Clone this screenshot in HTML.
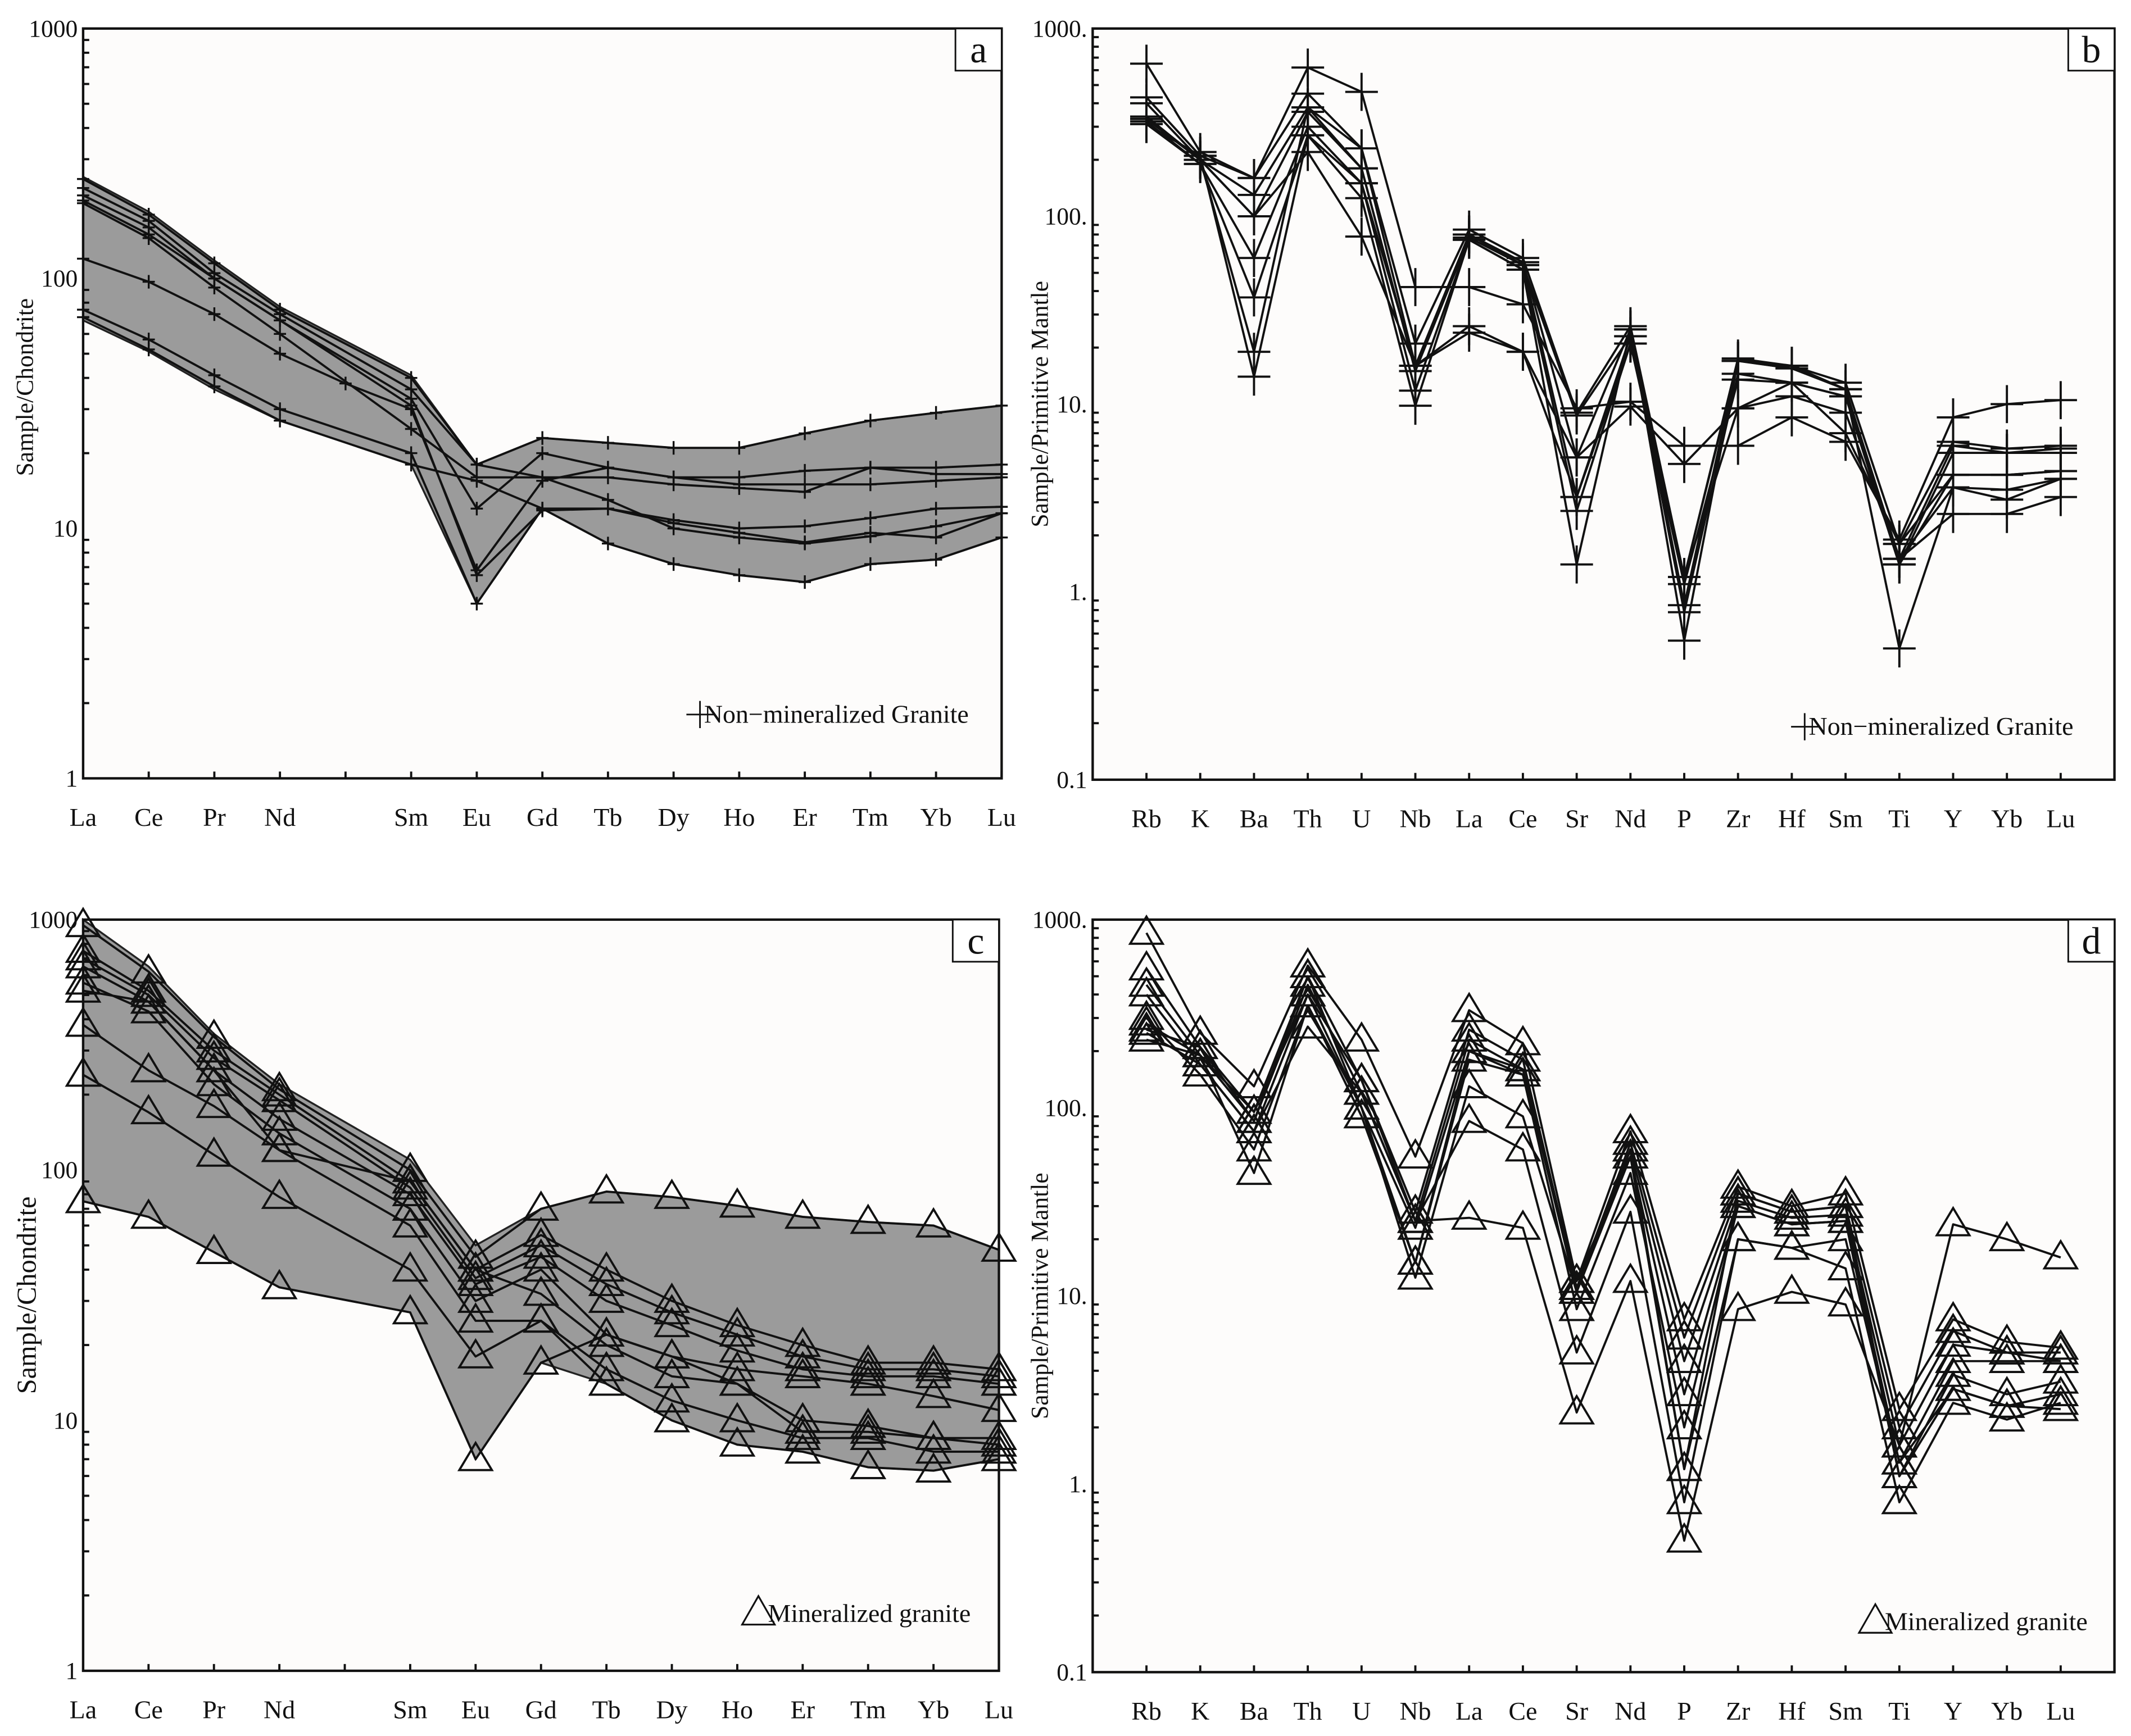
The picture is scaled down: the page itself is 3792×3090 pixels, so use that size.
<!DOCTYPE html>
<html><head><meta charset="utf-8"><style>
html,body{margin:0;padding:0;background:#fff;}
svg{display:block;}
svg text{font-family:"Liberation Serif","DejaVu Serif",serif !important;fill:#111;}
</style></head><body>
<svg id="fig" xmlns="http://www.w3.org/2000/svg" width="3792" height="3090" viewBox="0 0 1568 1278" font-family="Liberation Serif, DejaVu Serif, serif">
<rect x="0" y="0" width="1568" height="1278" fill="#ffffff"/>
</svg>
<script>
// ---------- data ----------
const reeCats = ['La','Ce','Pr','Nd','','Sm','Eu','Gd','Tb','Dy','Ho','Er','Tm','Yb','Lu'];
const pmCats = ['Rb','K','Ba','Th','U','Nb','La','Ce','Sr','Nd','P','Zr','Hf','Sm','Ti','Y','Yb','Lu'];
const yTicksA = [1000,100,10,1];
const yTickLabelsA = ['1000','100','10','1'];
const yTicksB = [1000,100,10,1,0.1];
const yTickLabelsB = ['1000.','100.','10.','1.','0.1'];

const aS1 = [250,180,115,75,null,40,18,16,16,15,14.5,14,17.5,16.5,16.5];
const aS2 = [230,170,105,72,null,36,18,23,22,21,21,24,27,29,31];
const aS3 = [215,160,100,68,null,33,12,20,17.5,16,16,17,17.5,17.5,18];
const aS4 = [205,150,100,68,null,31,6.5,11.8,12,10.8,10,10.2,11,12,12.2];
const aS5 = [200,145,92,60,null,25,16,16,13,10,9.2,8.7,9.3,10.2,11.5];
const aS6 = [120,97,72,50,38,30,6.8,15.5,17.5,16,15,15,15,15.5,16];
const aS7 = [75,57,41,30,null,20,5,12,8.7,7.2,6.5,6.1,7.2,7.5,9.2];
const aS8 = [70,52,37,27,null,18,15.5,12,12,10.5,9.6,8.8,9.6,9.2,11.5];
const aEnvUpper = [255,185,118,77,null,41,18,23,22,21,21,24,27,29,31];
const aEnvLower = [68,51,36,27,null,18,5,12,8.7,7.2,6.5,6.1,7.2,7.5,9.2];

const bS1 = [650,220,160,620,460,42,42,34,9.5,10.3,6,6,8.5,6.3,1.9,8.5,10,10.5];
const bS2 = [430,210,160,450,230,21,85,60,9,26,1.2,17.5,16,13,1.8,6.3,5.8,6];
const bS3 = [400,200,130,380,230,16,80,57,5.2,25,0.85,17,15.5,12,1.5,6,5.5,5.8];
const bS4 = [340,200,100,360,180,15,77,55,3.2,23,0.78,14.5,13,11,1.4,5.5,5.5,5.5];
const bS5 = [320,190,60,300,150,11.8,75,52,2.7,21,1.1,13.5,13,11,1.4,4.2,4.2,4.4];
const bS6 = [310,190,37,270,125,9.8,75,52,1.4,25,0.55,17,15.5,12,0.5,3.6,3.1,4];
const bS7 = [330,200,19,380,180,15,80,55,8.7,23,1.2,9.5,11,9,1.5,2.6,2.6,3.2];
const bS8 = [310,210,14,270,150,16,26,19,5.2,9.7,4.8,9.5,13,7,1.8,4.2,4.2,4.4];
const bS9 = [330,200,100,220,78,16,24,19,3.2,21,1.2,17,16,12,1.5,3.6,3.5,4];

const cS1 = [950,620,340,210,null,100,45,70,82,78,72,65,62,60,48];
const cS2 = [750,520,300,200,null,90,40,55,40,30,24,20,17,17,16];
const cS3 = [700,500,280,190,null,85,37,50,35,27,22,18,16,16,15];
const cS4 = [650,470,250,160,null,80,35,45,30,24,19,16,15,15,14];
const cS5 = [560,430,220,140,null,70,30,40,22,18,16,15,14,12.5,11];
const cS6 = [520,470,250,120,null,90,40,32,20,15,14,10,9.5,8.5,8.5];
const cS7 = [380,250,180,120,null,60,25,25,16,12,10,8.5,8.5,7.5,7.5];
const cS8 = [240,170,115,78,null,40,18,25,14,10,8,7.5,6.5,6.3,7];
const cS9 = [75,65,47,34,null,27,7,17,22,18,14,9,9,8.5,8];
const cEnvUpper = [1000,650,350,220,null,110,50,70,82,78,72,65,62,60,48];
const cEnvLower = [75,65,47,34,null,27,7,17,14,10,8,7.5,6.5,6.3,7];

const dS1 = [850,250,130,570,230,55,330,220,12,75,7.5,38,30,35,2.5,7.5,5.7,5.3];
const dS2 = [550,210,95,500,140,28,260,180,11,65,6,35,28,30,2,6.5,5,5];
const dS3 = [450,190,85,450,120,25,230,160,10.5,60,4.5,32,26,27,1.6,5.5,5,4.5];
const dS4 = [400,170,75,400,100,23,200,150,12,55,3,30,24,25,1.3,4.5,4.5,4.5];
const dS5 = [300,150,60,350,90,15,180,150,8.5,45,2,30,24,25,1.1,3.8,3,3.5];
const dS6 = [280,190,45,350,100,12.5,130,90,10.5,55,1.2,20,18,20,1.3,3.2,2.6,3];
const dS7 = [250,170,75,270,120,25,85,60,5,28,0.8,20,18,14,0.8,2.7,2.2,2.7];
const dS8 = [230,190,95,400,140,25,26,23,2.4,12,0.5,8.5,10.5,9,1.6,24,20,16];
const dS9 = [260,210,85,500,100,15,200,160,11,60,1.2,35,28,30,1.1,3.2,2.6,2.5];

// ---------- drawing ----------
const NS = 'http://www.w3.org/2000/svg';
const svg = document.getElementById('fig');
const FF = '"Liberation Serif", "DejaVu Serif", serif';
function mk(tag, attrs, parent){
  const e = document.createElementNS(NS, tag);
  for (const k in attrs) e.setAttribute(k, attrs[k]);
  if (tag==='text') e.style.fontFamily = FF;
  (parent||svg).appendChild(e);
  return e;
}

function panel(cfg){
  const g = mk('g', {});
  
  
  const {x0,x1,y0,y1,dMax,dMin,nSlots,offset} = cfg;
  const xs = i => x0 + (i+offset)*(x1-x0)/(nSlots-1);
  const ys = v => y0 + (dMax - Math.log10(v))/(dMax-dMin)*(y1-y0);

  const bg = mk('rect', {x:x0,y:y0,width:x1-x0,height:y1-y0,fill:'#fdfcfb',stroke:'none'}, g);
  
  

  if (cfg.envU){
    let pts = [];
    cfg.envU.forEach((v,i)=>{ if(v!=null) pts.push(xs(i)+','+ys(v)); });
    for (let i=cfg.envL.length-1;i>=0;i--){ const v=cfg.envL[i]; if(v!=null) pts.push(xs(i)+','+ys(v)); }
    const env = mk('polygon', {points:pts.join(' '), fill:'#9b9b9b', stroke:'#222', 'stroke-width':1.4}, g);
    
    
  }

  cfg.series.forEach((s,si)=>{
    const sg = mk('g', {}, g);
    
    
    let pts = [];
    s.forEach((v,i)=>{ if(v!=null) pts.push(xs(i)+','+ys(v)); });
    mk('polyline', {points:pts.join(' '), fill:'none', stroke:'#111', 'stroke-width':1.6, 'stroke-linejoin':'round'}, sg);
    s.forEach((v,i)=>{
      if (v==null) return;
      const x=xs(i), y=ys(v);
      let m;
      if (cfg.marker==='plus'){
        const h=cfg.mh, w=cfg.mw;
        m = mk('path', {d:`M${x-w},${y}H${x+w}M${x},${y-h}V${y+h}`, stroke:'#111','stroke-width':cfg.mlw, fill:'none'}, sg);
      } else {
        const w=12, h=20;
        m = mk('polygon', {points:`${x},${y-h*0.6} ${x-w},${y+h*0.4} ${x+w},${y+h*0.4}`, stroke:'#111','stroke-width':1.6, fill:'none'}, sg);
      }
      
      
    });
  });

  const fr = mk('rect', {x:x0,y:y0,width:x1-x0,height:y1-y0,fill:'none',stroke:'#111','stroke-width':1.8}, g);
  
  

  for (let d=dMin; d<dMax; d++){
    for (let k=2;k<=9;k++){
      const y = ys(k*Math.pow(10,d));
      mk('line', {x1:x0,y1:y,x2:x0+4.5,y2:y,stroke:'#111','stroke-width':1.6}, g);
    }
  }
  cfg.yTicks.forEach((v,i)=>{
    const t = mk('text', {x:x0-4, y:ys(v)+6, 'text-anchor':'end','font-size':18}, g);
    t.textContent = cfg.yLabels[i];
    
    
  });
  cfg.cats.forEach((c,i)=>{
    const x = xs(i);
    mk('line', {x1:x, y1:y1, x2:x, y2:y1-5, stroke:'#111','stroke-width':1.6}, g);
    if (c){
      const t = mk('text', {x:x, y:y1+35, 'text-anchor':'middle','font-size':19}, g);
      t.textContent = c;
      
      
    }
  });
  const cy = (y0+y1)/2 - cfg.titleShift;
  const yt = mk('text', {x:cfg.titleX, y:cy, 'text-anchor':'middle','font-size':cfg.titleSize, transform:`rotate(-90 ${cfg.titleX} ${cy})`}, g);
  yt.textContent = cfg.title;
  
  
  const lb = mk('rect', {x:x1-34, y:y0, width:34, height:31, fill:'#fff', stroke:'#111','stroke-width':1.2}, g);
  
  
  const lt = mk('text', {x:x1-17, y:y0+25, 'text-anchor':'middle','font-size':28}, g);
  lt.textContent = cfg.letter;
  
  
  const lg = mk('g', {}, g);
  
  
  const lx = cfg.legX, ly = cfg.legY;
  if (cfg.marker==='plus'){
    mk('path', {d:`M${lx-10},${ly-6}H${lx+10}M${lx},${ly-16}V${ly+4}`, stroke:'#111','stroke-width':1.2, fill:'none'}, lg);
  } else {
    mk('polygon', {points:`${lx},${ly-19} ${lx-12},${ly+2} ${lx+12},${ly+2}`, stroke:'#111','stroke-width':1.3, fill:'none'}, lg);
  }
  const ltx = mk('text', {x:lx+(cfg.marker==='plus'?3:7), y:ly, 'font-size':19}, lg);
  ltx.textContent = cfg.legText;
}

panel({name:'panel-a-ree-chondrite', x0:61, x1:737, y0:21, y1:573, dMax:3, dMin:0, nSlots:15, offset:0,
  cats:reeCats, yTicks:yTicksA, yLabels:yTickLabelsA, series:[aS1,aS2,aS3,aS4,aS5,aS6,aS7,aS8],
  envU:aEnvUpper, envL:aEnvLower, marker:'plus', mw:4.5, mh:5, mlw:1.4,
  title:'Sample/Chondrite', titleX:24, titleSize:18, titleShift:12, letter:'a',
  legX:515, legY:532, legText:'Non\u2212mineralized Granite'});

panel({name:'panel-b-trace-primitive-mantle', x0:804, x1:1556, y0:21, y1:574, dMax:3, dMin:-1, nSlots:20, offset:1,
  cats:pmCats, yTicks:yTicksB, yLabels:yTickLabelsB, series:[bS1,bS2,bS3,bS4,bS5,bS6,bS7,bS8,bS9],
  marker:'plus', mw:12, mh:14, mlw:1.6,
  title:'Sample/Primitive Mantle', titleX:771, titleSize:18, titleShift:0, letter:'b',
  legX:1328, legY:541, legText:'Non\u2212mineralized Granite'});

panel({name:'panel-c-ree-chondrite-mineralized', x0:61, x1:735, y0:677, y1:1230, dMax:3, dMin:0, nSlots:15, offset:0,
  cats:reeCats, yTicks:yTicksA, yLabels:yTickLabelsA, series:[cS1,cS2,cS3,cS4,cS5,cS6,cS7,cS8,cS9],
  envU:cEnvUpper, envL:cEnvLower, marker:'tri',
  title:'Sample/Chondrite', titleX:26, titleSize:20, titleShift:0, letter:'c',
  legX:558, legY:1194, legText:'Mineralized granite'});

panel({name:'panel-d-trace-primitive-mantle-mineralized', x0:804, x1:1556, y0:677, y1:1231, dMax:3, dMin:-1, nSlots:20, offset:1,
  cats:pmCats, yTicks:yTicksB, yLabels:yTickLabelsB, series:[dS1,dS2,dS3,dS4,dS5,dS6,dS7,dS8,dS9],
  marker:'tri',
  title:'Sample/Primitive Mantle', titleX:771, titleSize:18, titleShift:0, letter:'d',
  legX:1380, legY:1200, legText:'Mineralized granite'});
</script>
</body></html>
